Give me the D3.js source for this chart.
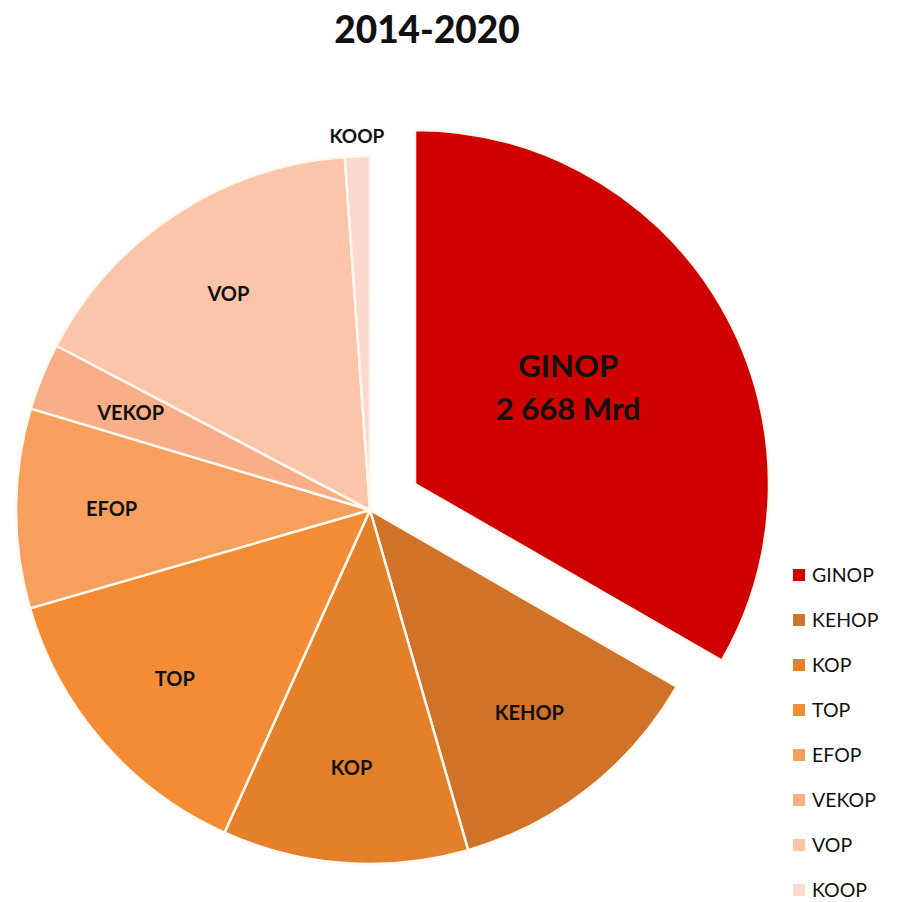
<!DOCTYPE html>
<html>
<head>
<meta charset="utf-8">
<script src="https://cdn.jsdelivr.net/npm/d3@7"></script>
<style>
  body { margin: 0; background: #fff; }
  svg { display: block; }
</style>
</head>
<body>
<div id="chart"></div>
<script>
// data (Mrd Ft)
const programs = ["GINOP", "KEHOP", "KOP", "TOP", "EFOP", "VEKOP", "VOP", "KOOP"];
const values = [2668, 978, 898, 1103, 729, 245, 1296, 91];
const colors = ["#d00000", "#d07228", "#e5802a", "#f48c35", "#f7a05e", "#f8af88", "#fcc4a8", "#fcd9cc"];
const title = "2014-2020";
const ginopLabel = ["GINOP", "2 668 Mrd"];

const W = 898, H = 902;
const cx = 370, cy = 510, r = 354;
const explode = 52;
const font = "Lato, 'Open Sans', sans-serif";

const svg = d3.select("#chart").append("svg")
  .attr("width", W)
  .attr("height", H);

// title
svg.append("text")
  .attr("x", 427)
  .attr("y", 43)
  .attr("text-anchor", "middle")
  .style("font-family", font)
  .style("font-weight", "900")
  .style("font-size", "37px")
  .style("fill", "#111")
  .text(title);

const data = programs.map((p, i) => ({name: p, value: values[i], color: colors[i]}));

const pie = d3.pie().sort(null).value(d => d.value);
const arcs = pie(data);

const arc = d3.arc().innerRadius(0).outerRadius(r);
const labelArc = d3.arc().innerRadius(r * 0.5).outerRadius(r * 0.96);

const g = svg.append("g")
  .attr("transform", `translate(${cx},${cy})`);

const offset = d => {
  if (d.index !== 0) return [0, 0];
  const a = (d.startAngle + d.endAngle) / 2;
  return [Math.sin(a) * explode, -Math.cos(a) * explode];
};

g.selectAll("path.slice")
  .data(arcs)
  .enter()
  .append("path")
  .attr("class", "slice")
  .attr("transform", d => `translate(${offset(d)})`)
  .attr("d", arc)
  .attr("fill", d => d.data.color)
  .attr("stroke", "#fff8ef")
  .attr("stroke-width", 2.5)
  .attr("stroke-linejoin", "round");

// inside labels
g.selectAll("text.lbl")
  .data(arcs.filter(d => d.index > 0 && d.data.name !== "KOOP"))
  .enter()
  .append("text")
  .attr("class", "lbl")
  .attr("transform", d => `translate(${labelArc.centroid(d)})`)
  .attr("text-anchor", "middle")
  .attr("dy", "0.35em")
  .style("font-family", font)
  .style("font-weight", "bold")
  .style("font-size", "20px")
  .style("fill", "#111")
  .text(d => d.data.name);

// GINOP label
const gin = arcs[0];
const gc = arc.centroid(gin);
const go = offset(gin);
const gt = g.append("text")
  .attr("text-anchor", "middle")
  .style("font-family", font)
  .style("font-weight", "bold")
  .style("font-size", "31px")
  .style("fill", "#111");
ginopLabel.forEach((t, i) => {
  gt.append("tspan")
    .attr("x", gc[0] + go[0])
    .attr("y", gc[1] + go[1] - 18 + i * 43)
    .text(t);
});

// KOOP label outside
const koop = arcs[arcs.length - 1];
const outArc = d3.arc().innerRadius(r + 13).outerRadius(r + 13);
const kc = outArc.centroid(koop);
g.append("text")
  .attr("x", kc[0])
  .attr("y", kc[1])
  .attr("text-anchor", "middle")
  .style("font-family", font)
  .style("font-weight", "bold")
  .style("font-size", "19px")
  .style("fill", "#111")
  .text(koop.data.name);

// legend
const ly = d3.scalePoint().domain(programs).range([575, 890]);
const legend = svg.append("g");
const item = legend.selectAll("g")
  .data(data)
  .enter()
  .append("g")
  .attr("transform", d => `translate(793,${ly(d.name)})`);

item.append("rect")
  .attr("x", 0)
  .attr("y", -6)
  .attr("width", 12)
  .attr("height", 12)
  .attr("fill", d => d.color);

item.append("text")
  .attr("x", 19)
  .attr("dy", "0.36em")
  .style("font-family", font)
  .style("font-size", "19.5px")
  .style("fill", "#111")
  .text(d => d.name);
</script>
</body>
</html>
